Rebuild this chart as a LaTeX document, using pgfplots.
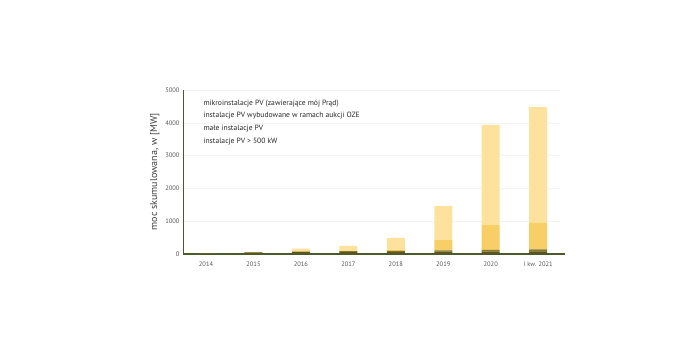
\documentclass[border=0pt]{standalone}
\usepackage{pgfplots}
\pgfplotsset{compat=1.18}
\usepackage{fontspec}
\setmainfont{PT Sans}
\definecolor{olivedark}{HTML}{5A561C}
\definecolor{olivemid}{HTML}{86772A}
\definecolor{yellowmid}{HTML}{F8CF66}
\definecolor{yellowlight}{HTML}{FCE29C}
\definecolor{axisgreen}{HTML}{4B5A2C}
\definecolor{ticktext}{HTML}{555555}
\begin{document}
\begin{tikzpicture}[x=1pt,y=1pt]
\path[use as bounding box] (0,0) rectangle (700,350);
\begin{axis}[
  at={(183pt,96pt)}, anchor=south west,
  scale only axis, width=377pt, height=164pt,
  ybar stacked, bar width=18pt,
  xmin=-0.485, xmax=7.46, ymin=0, ymax=5000,
  xtick={0,...,7},
  xticklabels={2014,2015,2016,2017,2018,2019,2020,I kw. 2021},
  ytick={0,1000,2000,3000,4000,5000},
  /pgf/number format/assume math mode=true,
  scaled y ticks=false,
  yticklabel style={/pgf/number format/1000 sep={}, font=\fontsize{6.5}{7.5}\selectfont, text=ticktext},
  xticklabel style={font=\fontsize{6.5}{7.5}\selectfont, text=ticktext, yshift=-4pt},
  tick style={draw=none},
  ymajorgrids, grid style={draw=black!5, line width=0.6pt},
  axis x line*=bottom, axis y line*=left,
  x axis line style={draw=axisgreen, line width=1.8pt, -, shorten >=-5pt},
  y axis line style={draw=axisgreen, line width=0.8pt, -},
  ylabel={moc skumulowana, w [MW]},
  ylabel style={font=\fontsize{10}{11}\selectfont, text=black!75, yshift=-1pt},
]
% instalacje PV > 500 kW
\addplot[fill=olivedark, draw=none] coordinates
  {(0,15) (1,40) (2,55) (3,60) (4,65) (5,70) (6,75) (7,80)};
% male instalacje PV
\addplot[fill=olivemid, draw=none] coordinates
  {(0,5) (1,15) (2,20) (3,25) (4,30) (5,40) (6,50) (7,60)};
% instalacje PV z aukcji OZE
\addplot[fill=yellowmid, draw=none] coordinates
  {(0,0) (1,5) (2,15) (3,15) (4,25) (5,330) (6,755) (7,810)};
% mikroinstalacje PV
\addplot[fill=yellowlight, draw=none] coordinates
  {(0,0) (1,0) (2,75) (3,150) (4,370) (5,1020) (6,3060) (7,3530)};
\end{axis}
\node[anchor=north west, align=left, font=\fontsize{7.6}{12.7}\selectfont, text=black!85]
  at (200,254) {mikroinstalacje PV (zawierające mój Prąd)\\
  instalacje PV wybudowane w ramach aukcji OZE\\
  małe instalacje PV\\
  instalacje PV > 500 kW};
\end{tikzpicture}
\end{document}
